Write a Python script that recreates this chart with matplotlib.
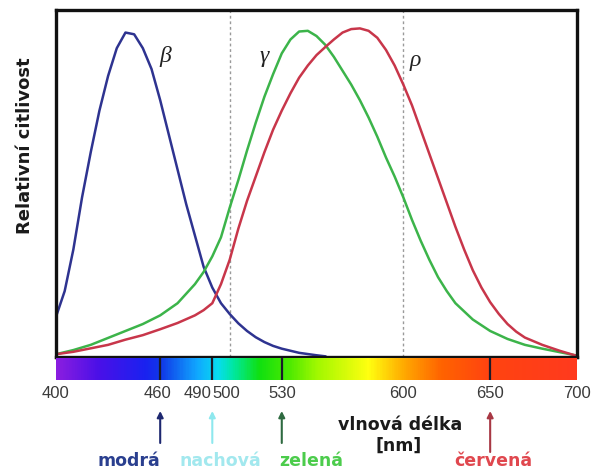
import numpy as np
import matplotlib
matplotlib.use('Agg')
import matplotlib.pyplot as plt
import matplotlib.transforms as mtransforms
from matplotlib.colors import LinearSegmentedColormap

# wavelengths [nm] and relative sensitivity
blue_nm = [400, 405, 410, 415, 420, 425, 430, 435, 440, 445, 450, 455, 460, 465,
           470, 475, 480, 485, 490, 495, 500, 505, 510, 515, 520, 525, 530, 540,
           550, 555]
blue_val = [0.116, 0.19, 0.31, 0.46, 0.59, 0.71, 0.81, 0.89, 0.935, 0.93, 0.89,
            0.83, 0.74, 0.64, 0.54, 0.44, 0.35, 0.26, 0.2, 0.155, 0.124, 0.097,
            0.075, 0.057, 0.043, 0.032, 0.024, 0.012, 0.005, 0.002]

green_nm = [400, 410, 420, 430, 440, 450, 460, 470, 480, 485, 490, 495, 500, 505,
            510, 515, 520, 525, 530, 535, 540, 545, 550, 555, 560, 565, 570, 575,
            580, 585, 590, 595, 600, 605, 610, 615, 620, 625, 630, 640, 650, 660,
            670, 680, 690, 700]
green_val = [0.008, 0.02, 0.035, 0.055, 0.075, 0.095, 0.12, 0.155, 0.21, 0.245,
             0.29, 0.345, 0.43, 0.51, 0.595, 0.675, 0.75, 0.815, 0.875, 0.915,
             0.938, 0.94, 0.925, 0.9, 0.865, 0.825, 0.785, 0.74, 0.69, 0.635,
             0.575, 0.52, 0.46, 0.395, 0.335, 0.28, 0.23, 0.19, 0.155, 0.108,
             0.075, 0.052, 0.035, 0.024, 0.014, 0.004]

red_nm = [400, 410, 420, 430, 440, 450, 460, 470, 480, 485, 490, 495, 500, 505,
          510, 515, 520, 525, 530, 535, 540, 545, 550, 555, 560, 565, 570, 575,
          580, 585, 590, 595, 600, 605, 610, 615, 620, 625, 630, 635, 640, 645,
          650, 655, 660, 665, 670, 680, 690, 700]
red_val = [0.008, 0.015, 0.025, 0.035, 0.05, 0.063, 0.08, 0.098, 0.12, 0.135,
           0.155, 0.21, 0.28, 0.37, 0.45, 0.52, 0.59, 0.655, 0.71, 0.76, 0.805,
           0.84, 0.87, 0.893, 0.915, 0.935, 0.945, 0.947, 0.94, 0.92, 0.885,
           0.84, 0.785, 0.725, 0.655, 0.585, 0.515, 0.445, 0.375, 0.31, 0.25,
           0.2, 0.158, 0.124, 0.095, 0.073, 0.056, 0.035, 0.018, 0.003]

tick_nm = [400, 460, 490, 500, 530, 600, 650, 700]
marker_nm = [460, 490, 530, 650]
guide_nm = [500, 600]
color_names = ['modrá', 'nachová', 'zelená', 'červená']

W, H = 592, 472
fig = plt.figure(figsize=(W / 100, H / 100), dpi=100)

ax = fig.add_axes([56 / W, 1 - 357 / H, (577 - 56) / W, (357 - 10) / H])
ax.set_xlim(400, 700)
ax.set_ylim(0, 1)
for g in guide_nm:
    ax.axvline(g, color='#9a9a9a', lw=1, ls=(0, (2, 2)))
ax.plot(blue_nm, blue_val, color='#2e3390', lw=1.8)
ax.plot(green_nm, green_val, color='#3cb44a', lw=1.8)
ax.plot(red_nm, red_val, color='#c8364a', lw=1.8)
ax.set_xticks([])
ax.set_yticks([])
for s in ax.spines.values():
    s.set_linewidth(2.4)
    s.set_color('#111111')

greek = dict(fontsize=17, fontstyle='italic', family='Liberation Serif',
             color='#222222', ha='center', va='center')
ax.text(463, 0.865, 'β', **greek)
ax.text(520, 0.865, 'γ', **greek)
ax.text(607, 0.855, 'ρ', **greek)

# spectrum bar
bar = fig.add_axes([56 / W, 1 - 380 / H, (577 - 56) / W, 22 / H])
spec = LinearSegmentedColormap.from_list('spec', [
    (0.0, '#8a1ee0'), (0.08, '#4a10e8'), (0.17, '#1a22f0'), (0.2, '#1038e8'),
    (0.27, '#10a8ff'), (0.31, '#08dcf0'), (0.34, '#00e8a0'), (0.39, '#10e010'),
    (0.45, '#50ea00'), (0.5, '#a0f800'), (0.6, '#ffff10'), (0.67, '#ffa800'),
    (0.74, '#ff6400'), (0.83, '#ff4410'), (1.0, '#ff3a1e')])
bar.imshow(np.linspace(400, 700, 600)[None, :], cmap=spec, aspect='auto',
           extent=[400, 700, 0, 1], vmin=400, vmax=700)
for m in marker_nm:
    bar.axvline(m, color='#1a1a2a', lw=1.6)
bar.set_xlim(400, 700)
bar.set_yticks([])
bar.set_xticks(tick_nm)
bar.tick_params(axis='x', length=0, pad=4, labelsize=12, labelcolor='#3a3a3a')
for lab in bar.get_xticklabels():
    lab.set_family('Liberation Sans')
# the 490 / 500 labels sit a little left of their ticks in the original
shift = {490: -15, 500: -3, 460: -3}
for t, lab in zip(tick_nm, bar.get_xticklabels()):
    if t in shift:
        lab.set_transform(lab.get_transform() +
                          mtransforms.ScaledTranslation(shift[t] / 100, 0,
                                                        fig.dpi_scale_trans))
for s in bar.spines.values():
    s.set_visible(False)

# arrows below the spectrum
arrow_cols = ['#1e2870', '#8ee8ee', '#2e6a40', '#a83844']
arrow_base = [443, 443, 443, 452]
for m, c, b in zip(marker_nm, arrow_cols, arrow_base):
    bar.annotate('', xy=(m, 1 - 411 / H), xycoords=('data', 'figure fraction'),
                 xytext=(m, 1 - b / H), textcoords=('data', 'figure fraction'),
                 arrowprops=dict(arrowstyle='-|>', color=c, lw=1.5,
                                 mutation_scale=9, shrinkA=0, shrinkB=0))

name_x = [129, 220, 311, 493]
name_cols = ['#2a3f8f', '#a2e8ee', '#4ccc4c', '#e0474e']
for n, x, c in zip(color_names, name_x, name_cols):
    fig.text(x / W, 1 - 461 / H, n, color=c, fontsize=12.5, fontweight='bold',
             ha='center', va='center')

fig.text(400 / W, 1 - 425 / H, 'vlnová délka', fontsize=12.5, fontweight='bold',
         ha='center', va='center', color='#1a1a1a')
fig.text(399 / W, 1 - 446 / H, '[nm]', fontsize=12.5, fontweight='bold',
         ha='center', va='center', color='#1a1a1a')
fig.text(25 / W, 1 - 146 / H, 'Relativní citlivost', fontsize=13, fontweight='bold',
         rotation=90, ha='center', va='center', color='#1a1a1a')

fig.savefig('out.png', dpi=100)
plt.close(fig)
